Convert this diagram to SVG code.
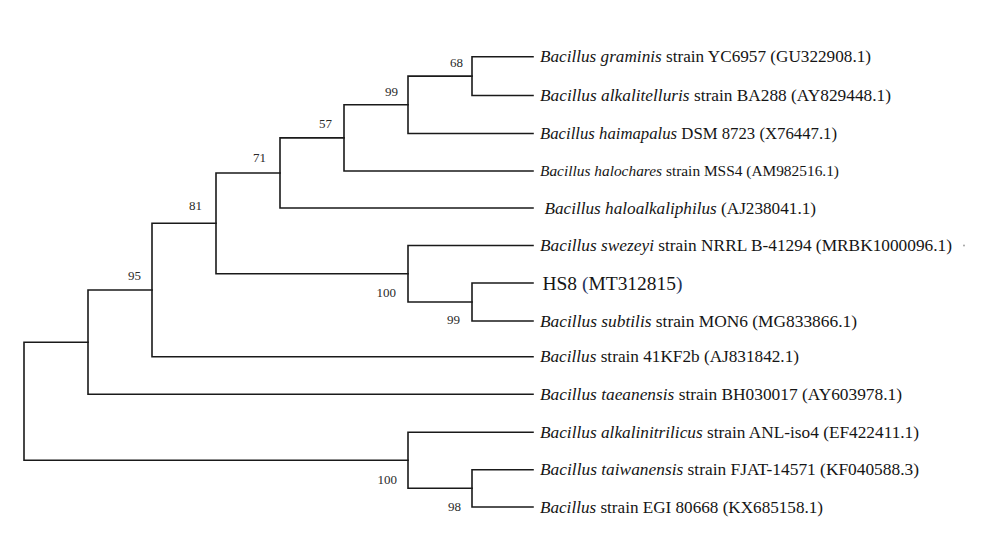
<svg xmlns="http://www.w3.org/2000/svg" width="982" height="540" viewBox="0 0 982 540" font-family="'Liberation Serif', 'DejaVu Serif', serif">
<style>
.br{fill:none;stroke:#1a1a1a;stroke-width:1.6;stroke-linecap:square;stroke-linejoin:miter}
text{font-family:'Liberation Serif','DejaVu Serif',serif}
.lf{font-size:16px;fill:#151515}
.sm{font-size:14.5px}
.it{font-style:italic}
.bs{font-size:13px;fill:#2a2a2a;text-anchor:end}
.hs{font-size:19px;fill:#151515}
</style>
<rect width="982" height="540" fill="#ffffff"/>
<g id="connectors">
<path class="br" d="M533,56.7 H472 V95.5 H533"/>
<path class="br" d="M472,76.1 H408 V133.5 H533"/>
<path class="br" d="M408,104.8 H344 V171 H533"/>
<path class="br" d="M344,137.9 H280 V208 H533"/>
<path class="br" d="M533,283 H472 V321 H533"/>
<path class="br" d="M533,245.5 H408 V302 H472"/>
<path class="br" d="M280,173 H216 V273.7 H408"/>
<path class="br" d="M216,223.3 H152 V356.7 H533"/>
<path class="br" d="M152,290 H88 V394.3 H533"/>
<path class="br" d="M533,469.7 H472 V507 H533"/>
<path class="br" d="M533,432.3 H408 V488.3 H472"/>
<path class="br" d="M88,342.2 H24 V460.3 H408"/>
</g>
<g id="node-68"><text class="bs" x="463" y="67">68</text></g>
<g id="node-99a"><text class="bs" x="398" y="95.5">99</text></g>
<g id="node-57"><text class="bs" x="332" y="127.5">57</text></g>
<g id="node-71"><text class="bs" x="266" y="162">71</text></g>
<g id="node-81"><text class="bs" x="202" y="210">81</text></g>
<g id="node-95"><text class="bs" x="141" y="280">95</text></g>
<g id="node-100a"><text class="bs" x="396" y="296.5">100</text></g>
<g id="node-99b"><text class="bs" x="460" y="323.5">99</text></g>
<g id="node-100b"><text class="bs" x="397" y="483.5">100</text></g>
<g id="node-98"><text class="bs" x="461" y="510.5">98</text></g>
<g id="leaf-graminis"><text class="lf" x="540" y="62.2" textLength="331" lengthAdjust="spacingAndGlyphs"><tspan class="it">Bacillus graminis</tspan> strain YC6957 (GU322908.1)</text></g>
<g id="leaf-alkalitelluris"><text class="lf" x="540" y="101" textLength="351" lengthAdjust="spacingAndGlyphs"><tspan class="it">Bacillus alkalitelluris</tspan> strain BA288 (AY829448.1)</text></g>
<g id="leaf-haimapalus"><text class="lf" x="540" y="139" textLength="297" lengthAdjust="spacingAndGlyphs"><tspan class="it">Bacillus haimapalus</tspan> DSM 8723 (X76447.1)</text></g>
<g id="leaf-halochares"><text class="lf sm" x="540" y="176" textLength="299" lengthAdjust="spacingAndGlyphs"><tspan class="it">Bacillus halochares</tspan> strain MSS4 (AM982516.1)</text></g>
<g id="leaf-haloalkaliphilus"><text class="lf" x="544.5" y="213.5" textLength="271.5" lengthAdjust="spacingAndGlyphs"><tspan class="it">Bacillus haloalkaliphilus</tspan> (AJ238041.1)</text></g>
<g id="leaf-swezeyi"><text class="lf" x="540" y="251" textLength="412" lengthAdjust="spacingAndGlyphs"><tspan class="it">Bacillus swezeyi</tspan> strain NRRL B-41294 (MRBK1000096.1)</text></g>
<circle cx="964" cy="245.5" r="0.9" fill="#9a9a9a"/>
<g id="leaf-HS8"><text class="hs" x="542.5" y="290" textLength="140" lengthAdjust="spacingAndGlyphs">HS8 <tspan fill="#1f3560">(</tspan>MT312815<tspan fill="#1f3560">)</tspan></text></g>
<g id="leaf-subtilis"><text class="lf" x="540" y="326.5" textLength="317" lengthAdjust="spacingAndGlyphs"><tspan class="it">Bacillus subtilis</tspan> strain MON6 (MG833866.1)</text></g>
<g id="leaf-41KF2b"><text class="lf" x="540" y="362.2" textLength="259" lengthAdjust="spacingAndGlyphs"><tspan class="it">Bacillus</tspan> strain 41KF2b (AJ831842.1)</text></g>
<g id="leaf-taeanensis"><text class="lf" x="540" y="399.8" textLength="362" lengthAdjust="spacingAndGlyphs"><tspan class="it">Bacillus taeanensis</tspan> strain BH030017 (AY603978.1)</text></g>
<g id="leaf-alkalinitrilicus"><text class="lf" x="540" y="437.8" textLength="379" lengthAdjust="spacingAndGlyphs"><tspan class="it">Bacillus alkalinitrilicus</tspan> strain ANL-iso4 (EF422411.1)</text></g>
<g id="leaf-taiwanensis"><text class="lf" x="540" y="475.2" textLength="379" lengthAdjust="spacingAndGlyphs"><tspan class="it">Bacillus taiwanensis</tspan> strain FJAT-14571 (KF040588.3)</text></g>
<g id="leaf-EGI80668"><text class="lf" x="540" y="512.5" textLength="283" lengthAdjust="spacingAndGlyphs"><tspan class="it">Bacillus</tspan> strain EGI 80668 (KX685158.1)</text></g>
</svg>
